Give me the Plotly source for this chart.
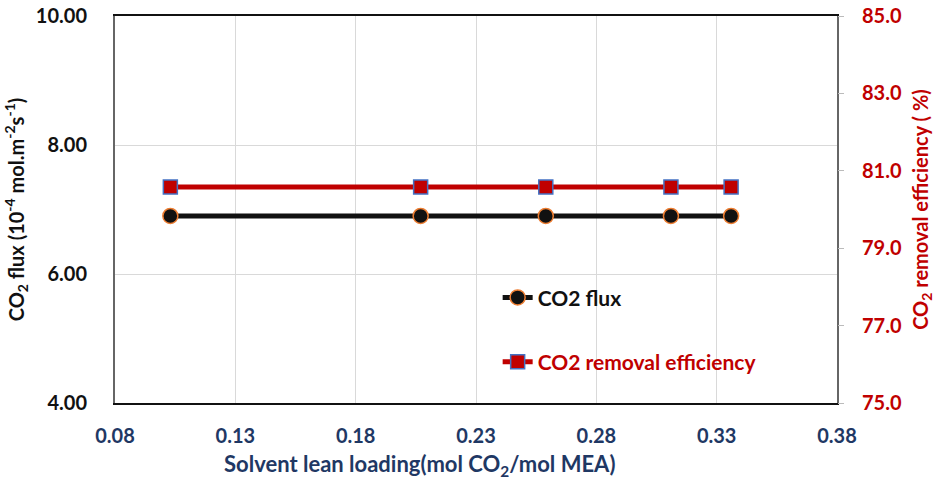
import plotly.graph_objects as go

lean_loading = [0.103, 0.207, 0.259, 0.311, 0.336]
co2_flux = [6.90, 6.90, 6.90, 6.90, 6.90]
removal_eff = [80.58, 80.58, 80.58, 80.58, 80.58]

FONT = "Lato"
NAVY = "#1F3864"
RED = "#C00000"

fig = go.Figure()
fig.add_trace(go.Scatter(
    x=lean_loading, y=co2_flux, mode="lines+markers",
    name="<span style='color:#111'>CO2 flux</span>", legendgroup="a",
    line=dict(color="#111111", width=5),
    marker=dict(symbol="circle", size=15, color="#111111", line=dict(color="#ED7D31", width=1.5)),
))
fig.add_trace(go.Scatter(
    x=lean_loading, y=removal_eff, mode="lines+markers", yaxis="y2",
    name="<span style='color:#C00000'>CO2 removal efficiency</span>", legendgroup="b",
    line=dict(color=RED, width=5),
    marker=dict(symbol="square", size=14, color=RED, line=dict(color="#4472C4", width=1.5)),
))

fig.update_layout(
    width=935, height=479,
    margin=dict(l=115, r=98, t=16, b=76),
    paper_bgcolor="white", plot_bgcolor="white",
    font=dict(family=FONT, size=20, color="#111"),
    showlegend=True,
    legend=dict(x=0.53, y=0.325, xanchor="left", yanchor="top",
                bgcolor="rgba(0,0,0,0)", tracegroupgap=34,
                traceorder="grouped", itemwidth=30,
                font=dict(family=FONT, size=21, weight="bold")),
    xaxis=dict(range=[0.08, 0.38], tick0=0.08, dtick=0.05, tickformat=".2f",
               showgrid=True, gridcolor="#d9d9d9", gridwidth=1,
               showline=True, linecolor="#111", linewidth=2, mirror=True,
               ticks="", ticklabelstandoff=14, automargin=False,
               tickfont=dict(family=FONT, size=20, color=NAVY, weight="bold"),
               zeroline=False),
    yaxis=dict(range=[4, 10], dtick=2, tickformat=".2f",
               showgrid=True, gridcolor="#d9d9d9", gridwidth=1,
               showline=True, linecolor="#666", linewidth=2, mirror=True,
               ticks="", ticklabelstandoff=22, automargin=False,
               tickfont=dict(family=FONT, size=20, color="#111", weight="bold"),
               title=dict(text="CO<sub>2</sub> flux (10<sup>-4</sup> mol.m<sup>-2</sup>s<sup>-1</sup>)",
                          font=dict(family=FONT, size=20, color="#111", weight="bold"),
                          standoff=6),
               zeroline=False),
    yaxis2=dict(range=[75, 85], dtick=2, tick0=75, tickformat=".1f",
                overlaying="y", side="right", showgrid=False,
                ticks="outside", ticklen=6, tickcolor="#bbb",
                ticklabelstandoff=14, automargin=False,
                tickfont=dict(family=FONT, size=20, color=RED, weight="bold"),
                title=dict(text="CO<sub>2</sub> removal efficiency ( %)",
                           font=dict(family=FONT, size=20, color=RED, weight="bold"),
                           standoff=13),
                zeroline=False),
    annotations=[dict(
        text="Solvent lean loading(mol CO<sub>2</sub>/mol MEA)",
        xref="paper", yref="paper", x=0.4224, y=-0.16, xanchor="center", yanchor="middle",
        showarrow=False, font=dict(family=FONT, size=22, color=NAVY, weight="bold"))],
)

fig.write_html("out.html")
